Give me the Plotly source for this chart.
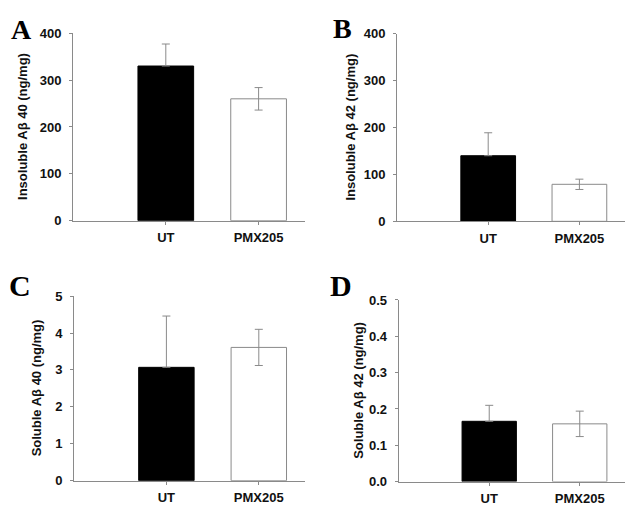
import plotly.graph_objects as go

# ---- data ----
groups = ["UT", "PMX205"]
group_pos = [1, 2]
insol40 = [330, 260]
insol40_err = [47, 24]
insol42 = [140, 79]
insol42_err = [49, 11]
sol40 = [3.07, 3.61]
sol40_err = [1.39, 0.49]
sol42 = [0.166, 0.159]
sol42_err = [0.044, 0.035]

titles = ["Insoluble Aβ 40 (ng/mg)", "Insoluble Aβ 42 (ng/mg)",
          "Soluble Aβ 40 (ng/mg)", "Soluble Aβ 42 (ng/mg)"]
letters = ["A", "B", "C", "D"]
yranges = [[0, 400], [0, 400], [0, 5], [0, 0.5]]
ydtick = [100, 100, 1, 0.1]
ytickfmt = ["d", "d", "d", ".1f"]

W, H = 641, 520
# panel pixel boxes: (x0, x1, ytop, ybottom)
boxes = [(73, 305, 27, 220), (397, 625, 27.7, 220.7),
         (74, 305, 297.7, 487.7), (398.7, 625, 301.7, 488.7)]
title_x = [23, 351, 36, 359]
letter_xy = [(21, 23), (342, 22), (20, 287), (341, 287)]
letter_size = [28, 28, 30, 30]

series = [(insol40, insol40_err), (insol42, insol42_err),
          (sol40, sol40_err), (sol42, sol42_err)]

fig = go.Figure()
axis_col = "#8a8a8a"
tickfont = dict(family="Liberation Sans, Arial", size=13, color="#111", weight=700)

layout = dict(width=W, height=H, margin=dict(l=0, r=0, t=0, b=0),
              paper_bgcolor="white", plot_bgcolor="white", showlegend=False)
annotations = []
for i, ((vals, errs), box) in enumerate(zip(series, boxes)):
    xa = "x" if i == 0 else f"x{i+1}"
    ya = "y" if i == 0 else f"y{i+1}"
    fig.add_trace(go.Bar(
        x=group_pos, y=vals, width=0.6, xaxis=xa, yaxis=ya,
        marker=dict(color=["black", "white"],
                    line=dict(color=["black", axis_col], width=1)),
        error_y=dict(type="data", symmetric=False, array=errs,
                     arrayminus=[0, errs[1]], visible=True,
                     color=axis_col, thickness=1, width=4),
    ))
    x0, x1, yt, yb = box
    xkey = "xaxis" if i == 0 else f"xaxis{i+1}"
    ykey = "yaxis" if i == 0 else f"yaxis{i+1}"
    layout[xkey] = dict(domain=[x0 / W, x1 / W], anchor=ya, range=[0, 2.5],
                        tickvals=group_pos, ticktext=groups,
                        showline=True, linecolor=axis_col, linewidth=1,
                        ticks="outside", ticklen=3, tickcolor=axis_col,
                        showgrid=False, zeroline=False, tickfont=tickfont,
                        ticklabelstandoff=2, fixedrange=True)
    layout[ykey] = dict(domain=[1 - yb / H, 1 - yt / H], anchor=xa,
                        range=yranges[i], dtick=ydtick[i], tick0=0,
                        tickformat=ytickfmt[i],
                        showline=True, linecolor=axis_col, linewidth=1,
                        ticks="outside", ticklen=3, tickcolor=axis_col,
                        showgrid=False, zeroline=False, tickfont=tickfont,
                        ticklabelstandoff=5, fixedrange=True)
    annotations.append(dict(text=titles[i], textangle=-90, showarrow=False,
                            xref="paper", yref="paper",
                            x=title_x[i] / W, y=1 - (yt + yb) / 2 / H,
                            xanchor="center", yanchor="middle",
                            font=dict(family="Liberation Sans, Arial", size=13,
                                      color="#111", weight=700)))
    lx, ly = letter_xy[i]
    annotations.append(dict(text=letters[i], showarrow=False,
                            xref="paper", yref="paper",
                            x=lx / W, y=1 - ly / H,
                            xanchor="center", yanchor="middle",
                            font=dict(family="Liberation Serif, Times New Roman",
                                      size=letter_size[i], color="black",
                                      weight=700)))

layout["annotations"] = annotations
fig.update_layout(**layout)
fig.write_html("out.html", config={"displayModeBar": False})

# remove default page margin so the figure sits at the window origin
with open("out.html", "r", encoding="utf-8") as f:
    html = f.read()
html = html.replace("<head>", "<head><style>html,body{margin:0;padding:0;overflow:hidden;}</style>", 1)
with open("out.html", "w", encoding="utf-8") as f:
    f.write(html)
